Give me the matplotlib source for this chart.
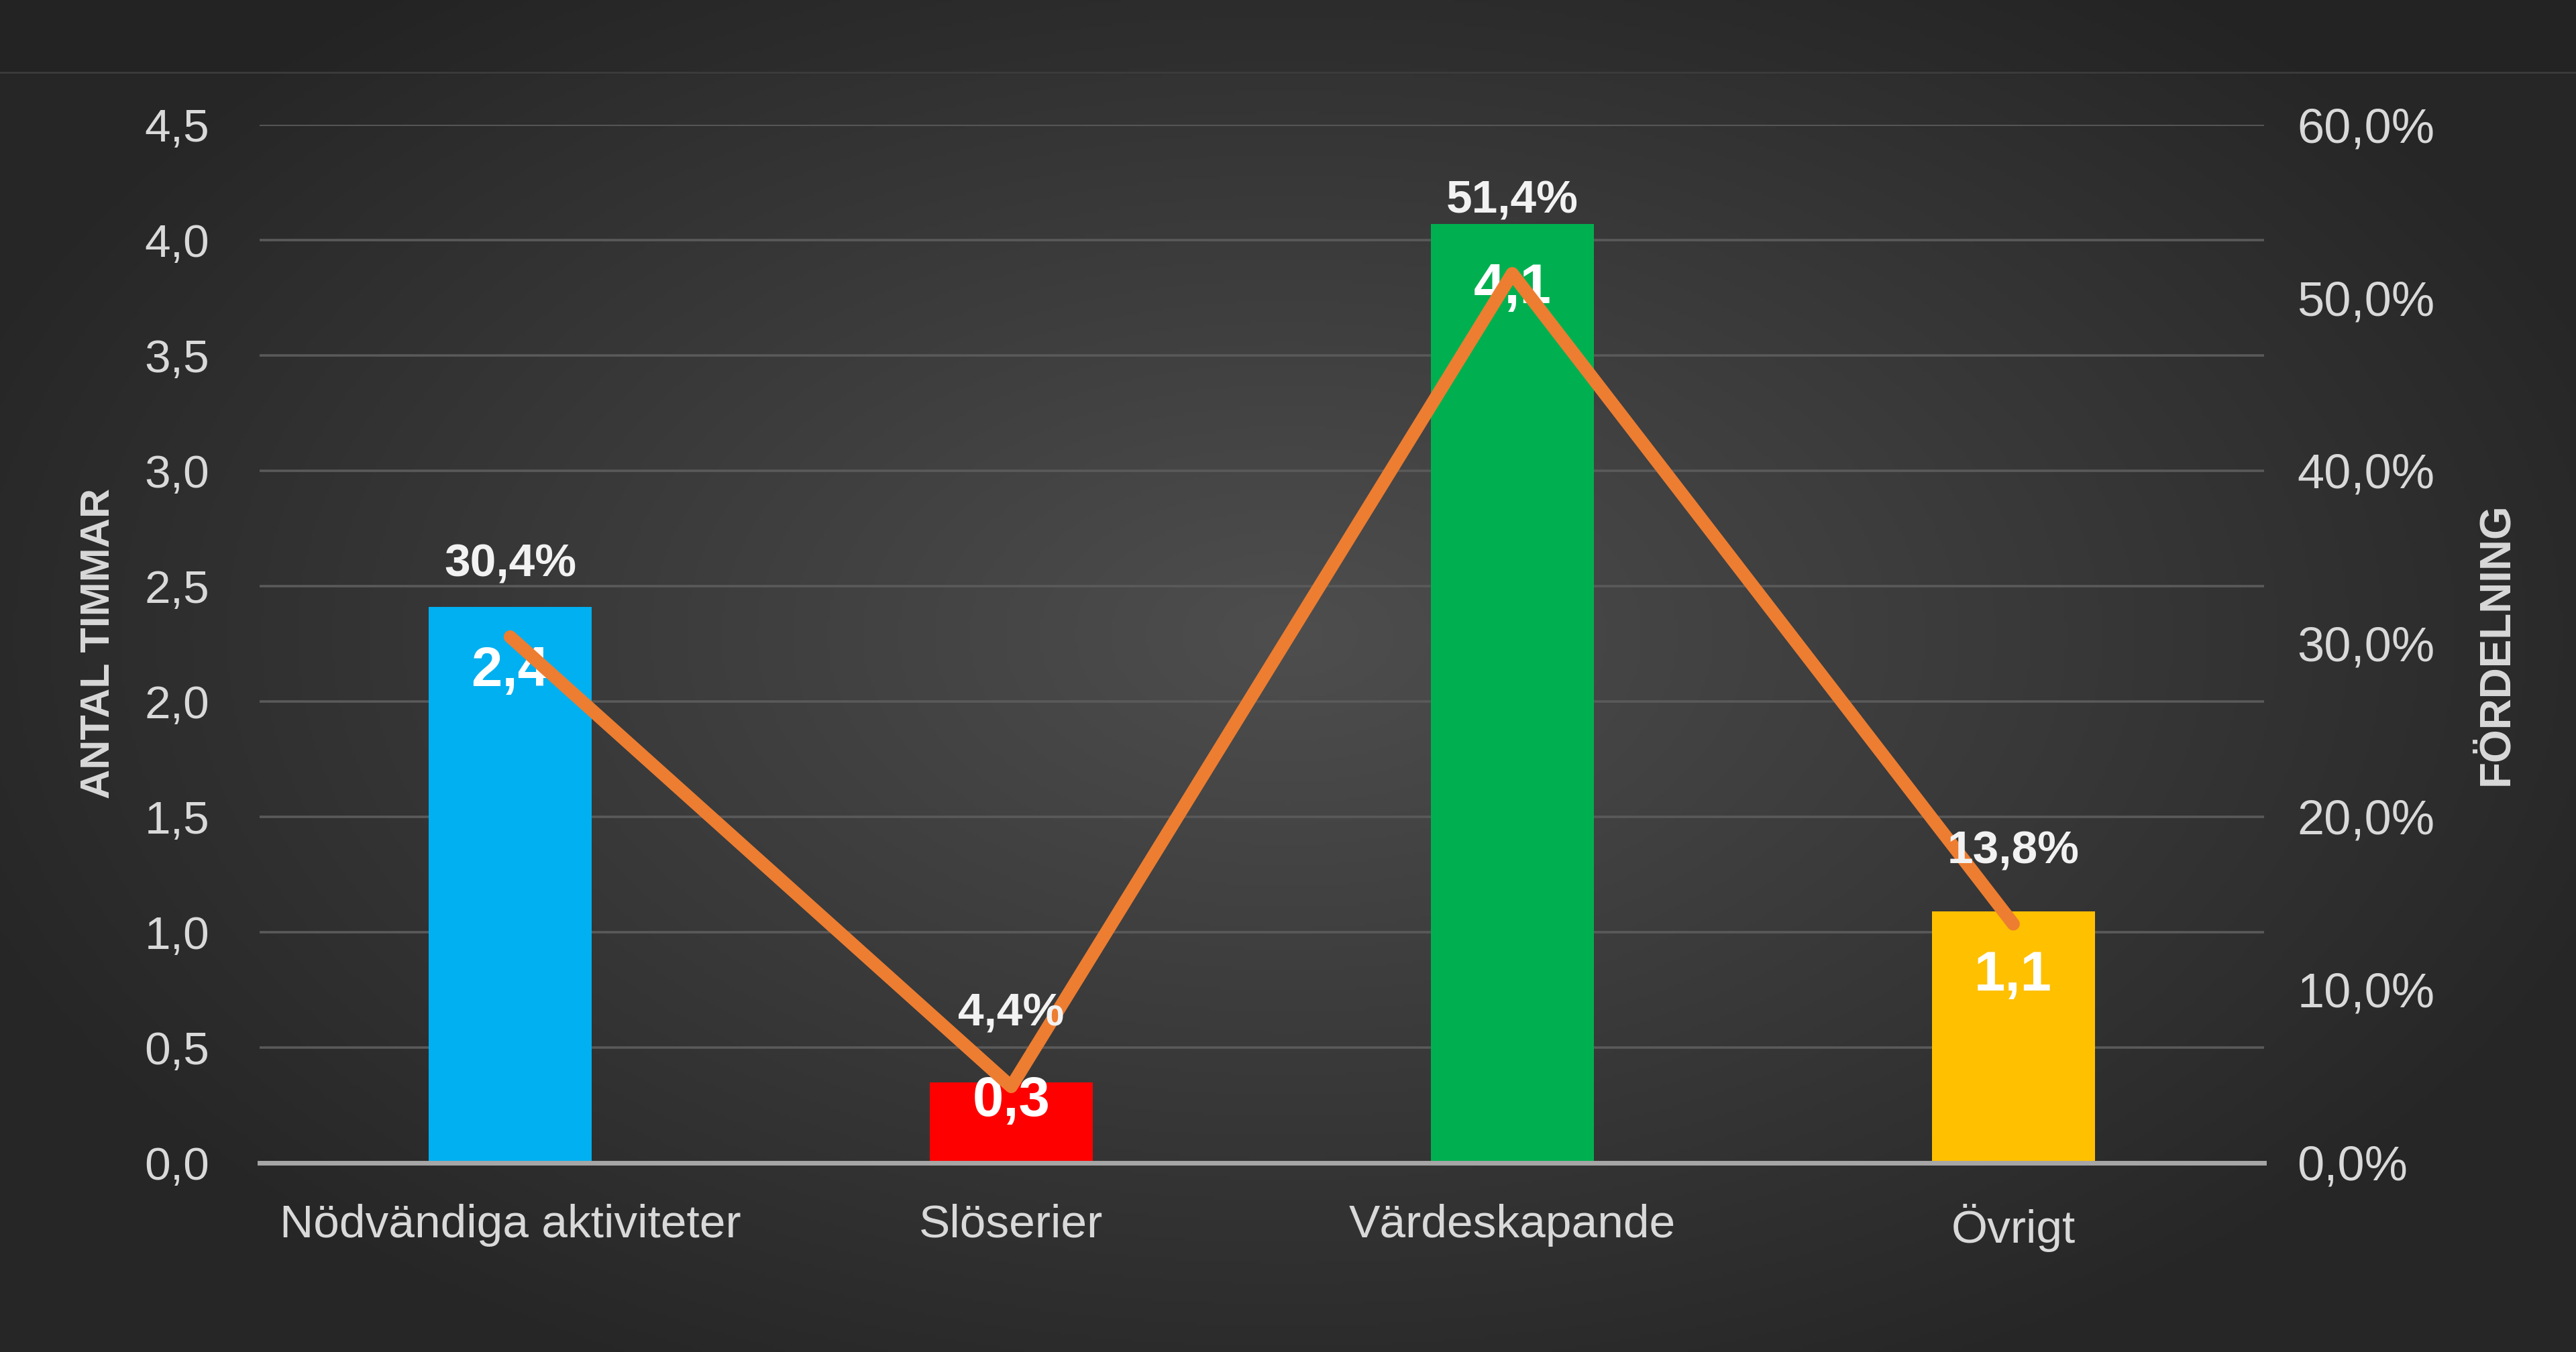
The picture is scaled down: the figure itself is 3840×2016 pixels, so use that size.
import numpy as np
import matplotlib
matplotlib.use("Agg")
import matplotlib.pyplot as plt
from matplotlib.ticker import FuncFormatter, MultipleLocator

# data
categories = ["Nödvändiga aktiviteter", "Slöserier", "Värdeskapande", "Övrigt"]
hours = [2.41, 0.348, 4.07, 1.09]
share = [30.4, 4.4, 51.4, 13.8]
bar_colors = ["#00B0F0", "#FF0000", "#00B050", "#FFC000"]

plt.rcParams['font.family'] = ['Liberation Sans', 'DejaVu Sans']
txt = "#d9d9d9"

fig = plt.figure(figsize=(19.2, 10.08), dpi=200)

# dark radial background
bg = fig.add_axes([0, 0, 1, 1], zorder=-10)
yy, xx = np.mgrid[0:1:400j, 0:1:760j]
r = np.sqrt(((xx - 0.5) / 0.55) ** 2 + ((yy - 0.47) / 0.62) ** 2)
r = np.clip(r, 0, 1)
c_in = np.array([0x4e, 0x4e, 0x4e]) / 255
c_out = np.array([0x26, 0x26, 0x26]) / 255
img = c_in[None, None, :] * (1 - r[..., None]) + c_out[None, None, :] * r[..., None]
img[yy < 0.0536] *= 0.93
bg.imshow(img, extent=[0, 1, 1, 0], aspect='auto')
bg.axhline(0.0536, color="#3c3c3c", lw=1)
bg.set_xlim(0, 1)
bg.set_ylim(1, 0)
bg.axis('off')

ax = fig.add_axes([0.1008, 0.140, 0.778, 0.7677])
ax.patch.set_alpha(0)
x = np.arange(len(categories))

ax.bar(x, hours, width=0.325, color=bar_colors, zorder=2)
ax.set_xlim(-0.5, 3.5)
ax.set_ylim(0, 4.5)
ax.yaxis.set_major_locator(MultipleLocator(0.5))
ax.yaxis.set_major_formatter(FuncFormatter(lambda v, p: f"{v:.1f}".replace('.', ',')))
ax.grid(axis='y', color="#5a5a5a", lw=1.3, zorder=0)
ax.set_axisbelow(True)
ax.set_xticks(x)
ax.set_xticklabels(categories)
ax.tick_params(axis='x', length=0, pad=22, labelsize=25, labelcolor=txt)
ax.tick_params(axis='y', length=0, pad=27, labelsize=25, labelcolor=txt)
for s in ['top', 'left', 'right']:
    ax.spines[s].set_visible(False)
ax.spines['bottom'].set_color("#a6a6a6")
ax.spines['bottom'].set_linewidth(2.5)
ax.set_ylabel("ANTAL TIMMAR", fontsize=22, fontweight='bold', color=txt, labelpad=14)

ax2 = ax.twinx()
ax2.set_ylim(0, 60)
ax2.yaxis.set_major_locator(MultipleLocator(10))
ax2.yaxis.set_major_formatter(FuncFormatter(lambda v, p: f"{v:.1f}%".replace('.', ',')))
ax2.tick_params(axis='y', length=0, pad=18, labelsize=26, labelcolor=txt)
for s in ['top', 'left', 'right', 'bottom']:
    ax2.spines[s].set_visible(False)
ax2.set_ylabel("FÖRDELNING", fontsize=23, fontweight='bold', color=txt, labelpad=22)

ax2.plot(x, share, color="#ED7D31", lw=7, solid_capstyle='round', zorder=3)

for xi, v in zip(x, hours):
    yl = v - 0.28 if v > 0.6 else v - 0.08
    ax.text(xi, yl, f"{v:.1f}".replace('.', ','), ha='center', va='center',
            fontsize=30, fontweight='bold', color='white', zorder=5)

for xi, p in zip(x, share):
    ax2.annotate(f"{p:.1f}%".replace('.', ','), (xi, p), xytext=(0, 39),
                 textcoords='offset points', ha='center', va='center',
                 fontsize=25, fontweight='bold', color='#f2f2f2', zorder=5)

fig.savefig("out.png", dpi=200, facecolor="#2a2a2a")
